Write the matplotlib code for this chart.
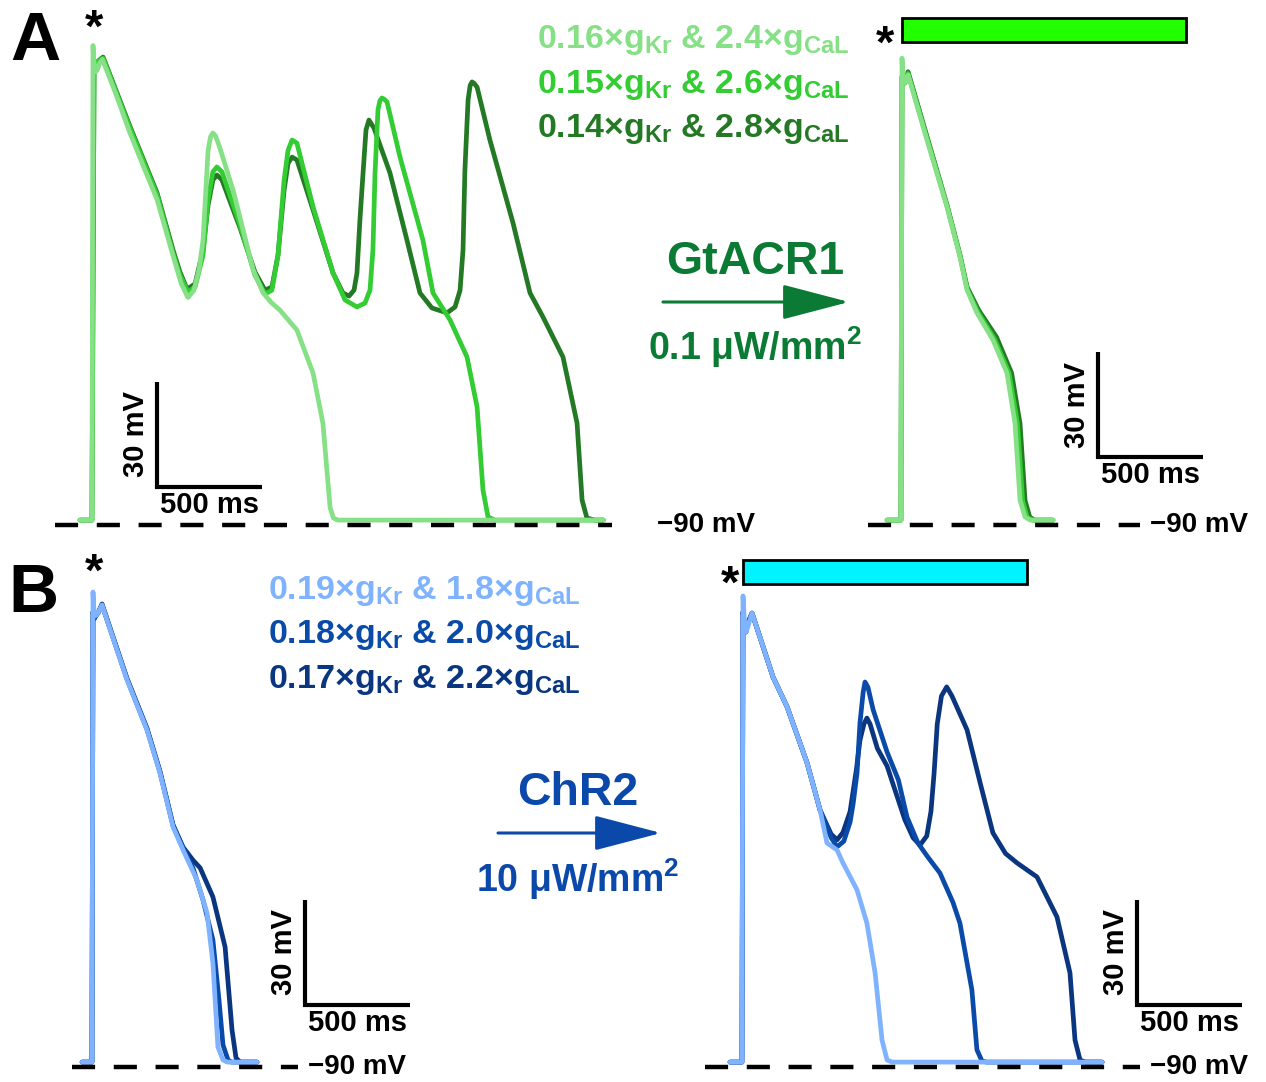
import matplotlib
matplotlib.use("Agg")
import matplotlib.pyplot as plt
from matplotlib.patches import Rectangle, FancyArrowPatch

plt.rcParams['font.family'] = ['Liberation Sans', 'DejaVu Sans']
plt.rcParams['font.weight'] = 'bold'
plt.rcParams['mathtext.fontset'] = 'custom'
plt.rcParams['mathtext.rm'] = 'Liberation Sans:bold'
plt.rcParams['mathtext.bf'] = 'Liberation Sans:bold'
plt.rcParams['mathtext.it'] = 'Liberation Sans:bold'

W, H = 1266, 1082
PX_MS = 0.21    # pixels per ms
PX_MV = 3.5     # pixels per mV

# ---- data: time (ms) and membrane voltage (mV) ----
# A, before light (GtACR1 models)
a_pre_t_16 = [-62, -5, 0, 5, 12, 20, 32, 45, 110, 176, 240, 305, 381, 420, 452, 480, 505, 524, 548, 560, 571,
              583, 600, 667, 762, 810, 850, 890, 971, 1048, 1095, 1129, 1145, 1165, 2430]
a_pre_v_16 = [-88.6, -88.6, 47, 42, 39.5, 40, 42, 43, 33, 22, 12.5, 3, -13, -21, -25, -23, -17, -8.6, 17, 21,
              22, 21.2, 18.5, 5.7, -17, -23.7, -26.5, -28.6, -34.3, -46.6, -61, -85, -88, -88.6, -88.6]
a_pre_t_15 = [-62, -5, 5, 19, 48, 176, 305, 381, 414, 452, 486, 524, 548, 571, 590, 614, 700, 771, 819, 852,
              881, 910, 929, 948, 971, 1048, 1143, 1200, 1257, 1295, 1319, 1333, 1343, 1357, 1366, 1376, 1388,
              1400, 1462, 1571, 1619, 1700, 1781, 1829, 1857, 1881, 1914, 2430]
a_pre_v_15 = [-88.6, -88.6, 40, 42.3, 43.4, 23.4, 4.3, -12.3, -18.6, -23.4, -22, -12.9, 2.9, 10.9, 12.3, 10.9,
              -4.3, -18.6, -24, -22.9, -12.9, 8.6, 17.1, 20, 19.1, 0.9, -18, -25.7, -27.7, -26.6, -22.9, -11.4,
              10.6, 28.6, 31.2, 32, 31.6, 30.9, 15.1, -8.6, -23.7, -31.4, -42, -56.3, -80, -87.7, -88.6, -88.6]
a_pre_t_14 = [-62, -5, 5, 19, 48, 176, 305, 381, 414, 448, 486, 524, 548, 571, 590, 614, 700, 771, 819, 852,
              881, 910, 929, 948, 971, 1048, 1143, 1190, 1219, 1243, 1257, 1271, 1286, 1300, 1314, 1338, 1414,
              1495, 1557, 1614, 1686, 1724, 1748, 1762, 1771, 1786, 1796, 1805, 1815, 1829, 1890, 2000, 2081,
              2143, 2238, 2305, 2329, 2352, 2390, 2430]
a_pre_v_14 = [-88.6, -88.6, 40, 42.3, 43.7, 23.9, 4.9, -11.4, -17.7, -22.6, -21.1, -11.4, 1.4, 8.6, 10, 8.6,
              -5.1, -17.7, -22.9, -22, -12.9, 5.7, 13.4, 15.1, 14.3, 0, -18, -23.7, -24.6, -22.9, -18, -2.9,
              10.6, 22.9, 25.7, 23.4, 10.6, -8.6, -23.7, -28, -29.4, -27.7, -22.9, -11.4, 11.4, 31.4, 35.6,
              36.6, 36.2, 35.1, 20, -3.7, -23.7, -30.6, -42, -60.9, -82.9, -88, -88.6, -88.6]

# A, with GtACR1 light
a_on_t_16 = [-71, -5, 0, 5, 14, 29, 119, 214, 276, 310, 357, 433, 500, 538, 562, 586, 610, 719]
a_on_v_16 = [-88.6, -88.6, 43.4, 38, 36.3, 38.6, 20, 0.9, -13.4, -22.9, -29.4, -37.1, -46.6, -60.9, -82.9,
             -87.7, -88.6, -88.6]
a_on_t_15 = [-71, -5, 0, 5, 14, 29, 119, 214, 276, 310, 360, 440, 510, 550, 574, 596, 620, 719]
a_on_v_15 = [-88.6, -88.6, 38, 37, 36.3, 39, 20.5, 1.2, -13, -22.5, -29, -36.8, -46.6, -61, -83, -87.7,
             -88.6, -88.6]
a_on_t_14 = [-71, -5, 0, 5, 14, 29, 119, 214, 276, 310, 365, 450, 522, 562, 586, 608, 630, 719]
a_on_v_14 = [-88.6, -88.6, 38, 37, 36.3, 39.5, 21, 1.5, -12.8, -22, -28.6, -36.3, -46.6, -61, -83, -87.7,
             -88.6, -88.6]

# B, before light (ChR2 models)
b_pre_t_19 = [-52, -5, 0, 5, 14, 24, 43, 162, 257, 319, 381, 429, 495, 543, 571, 595, 619, 640, 781]
b_pre_v_19 = [-88.6, -88.6, 45.7, 40, 39, 39.7, 42, 20.6, 6.3, -6, -21.4, -28, -36.6, -46, -60.3, -84.3,
              -88, -88.6, -88.6]
b_pre_t_18 = [-52, -5, 0, 5, 14, 24, 43, 162, 257, 319, 381, 429, 476, 524, 571, 600, 619, 643, 660, 781]
b_pre_v_18 = [-88.6, -88.6, 40, 38, 39, 39.7, 42, 20.8, 6.5, -5.8, -21, -27.5, -33.1, -42.3, -53.7, -70.9,
              -83.7, -88, -88.6, -88.6]
b_pre_t_17 = [-52, -5, 0, 5, 14, 24, 43, 162, 257, 319, 381, 429, 476, 510, 571, 629, 662, 681, 700, 781]
b_pre_v_17 = [-88.6, -88.6, 40, 38, 39, 39.7, 42.3, 21, 6.8, -5.5, -20.8, -27.2, -30.9, -33.1, -41.4, -55.7,
              -79.4, -87.4, -88.6, -88.6]

# B, with ChR2 light
b_on_t_19 = [-62, -5, 0, 6, 14, 24, 43, 143, 210, 305, 367, 400, 448, 476, 543, 590, 629, 662, 686, 710, 1710]
b_on_v_19 = [-88.6, -88.6, 44.6, 38, 34.3, 36, 39.7, 21.4, 12.9, -3.1, -16.6, -26, -28, -31.7, -39.4, -48.9,
             -63.1, -82.3, -88, -88.6, -88.6]
b_on_t_18 = [-62, -5, 0, 5, 14, 24, 43, 143, 210, 305, 367, 420, 448, 480, 510, 524, 543, 557, 572, 581, 595,
             620, 686, 740, 781, 833, 880, 938, 1000, 1033, 1090, 1114, 1138, 1160, 1710]
b_on_v_18 = [-88.6, -88.6, 40, 36, 34.3, 37, 39.7, 21.4, 12.9, -3.1, -16.6, -24.5, -27.1, -25.5, -20, -15, -6,
             8.3, 17, 20, 18.5, 12, 0, -8, -18.6, -26, -30, -34.6, -43, -48.9, -68, -85.1, -88.3, -88.6, -88.6]
b_on_t_17 = [-62, -5, 0, 5, 14, 24, 43, 143, 210, 305, 367, 420, 448, 476, 510, 540, 557, 576, 590, 605, 640,
             686, 730, 771, 810, 843, 875, 895, 910, 925, 945, 970, 995, 1067, 1130, 1190, 1250, 1305, 1400,
             1495, 1557, 1581, 1605, 1630, 1710]
b_on_v_17 = [-88.6, -88.6, 40, 36, 34.3, 37, 39.7, 21.4, 12.9, -3.1, -16.6, -23.5, -25.1, -23, -17, -5, 3.4, 8,
             9.7, 8, 1, -4, -12, -19.4, -24.5, -26.6, -24, -17, -6, 8, 16, 18.6, 16, 6.3, -9, -23.1, -29, -31.7,
             -35.7, -47.1, -63.1, -82.3, -88, -88.6, -88.6]

light_on = (0, 1350)       # ms, illumination window
rest_v = -90
scale_ms, scale_mv = 500, 30

green_cols = ['#86e086', '#33cc33', '#247a24']   # 0.16, 0.15, 0.14
blue_cols = ['#80b3ff', '#0a4aa8', '#0a3680']    # 0.19, 0.18, 0.17
green_labels = [r'0.16×g$_{\mathbf{Kr}}$ & 2.4×g$_{\mathbf{CaL}}$',
                r'0.15×g$_{\mathbf{Kr}}$ & 2.6×g$_{\mathbf{CaL}}$',
                r'0.14×g$_{\mathbf{Kr}}$ & 2.8×g$_{\mathbf{CaL}}$']
blue_labels = [r'0.19×g$_{\mathbf{Kr}}$ & 1.8×g$_{\mathbf{CaL}}$',
               r'0.18×g$_{\mathbf{Kr}}$ & 2.0×g$_{\mathbf{CaL}}$',
               r'0.17×g$_{\mathbf{Kr}}$ & 2.2×g$_{\mathbf{CaL}}$']

fig = plt.figure(figsize=(W / 100, H / 100), dpi=100)


def fx(x, y):
    # pixel position in the picture -> figure fraction
    return x / W, 1 - y / H


def panel(x0, y0):
    # an axes over the whole figure whose t=0 / -90 mV point sits at pixel (x0, y0)
    ax = fig.add_axes([0, 0, 1, 1])
    ax.set_xlim(-x0 / PX_MS, (W - x0) / PX_MS)
    ax.set_ylim(rest_v - (H - y0) / PX_MV, rest_v + y0 / PX_MV)
    ax.axis('off')
    ax.patch.set_alpha(0)
    return ax


def traces(ax, ts, vs, cols):
    # darkest first so the lighter trace sits on top
    for t, v, c in reversed(list(zip(ts, vs, cols))):
        ax.plot(t, v, color=c, lw=3.4, solid_joinstyle='round', solid_capstyle='round')


def rest_line(ax, t0, t1, t_lab):
    ax.plot([t0, t1], [rest_v, rest_v], color='black', lw=3.2, ls=(0, (5.2, 4.2)))
    ax.text(t_lab, rest_v, '\u221290 mV', fontsize=20, fontweight='bold', va='center', ha='left')


def scale_bar(ax, t, v):
    ax.plot([t, t, t + scale_ms], [v + scale_mv, v, v], color='black', lw=3, solid_capstyle='butt',
            solid_joinstyle='miter')
    ax.annotate('30 mV', (t, v + scale_mv / 2), xytext=(-15, 0), textcoords='offset points', rotation=90,
                ha='center', va='center', fontsize=21, fontweight='bold')
    ax.annotate('500 ms', (t + scale_ms / 2, v), xytext=(0, -13), textcoords='offset points',
                ha='center', va='center', fontsize=21, fontweight='bold')


def light_bar(ax, col):
    ax.add_patch(Rectangle((light_on[0], 48), light_on[1] - light_on[0], 7, facecolor=col,
                           edgecolor='black', lw=2))


# panel A, before
ax = panel(93, 525)
traces(ax, [a_pre_t_16, a_pre_t_15, a_pre_t_14], [a_pre_v_16, a_pre_v_15, a_pre_v_14], green_cols)
rest_line(ax, -181, 2471, 2686)
scale_bar(ax, 305, -79.1)

# panel A, GtACR1 on
ax = panel(902, 525)
traces(ax, [a_on_t_16, a_on_t_15, a_on_t_14], [a_on_v_16, a_on_v_15, a_on_v_14], green_cols)
rest_line(ax, -162, 1133, 1181)
scale_bar(ax, 933, -70.6)
light_bar(ax, '#22ff00')

# panel B, before
ax = panel(93, 1067)
traces(ax, [b_pre_t_19, b_pre_t_18, b_pre_t_17], [b_pre_v_19, b_pre_v_18, b_pre_v_17], blue_cols)
rest_line(ax, -100, 976, 1024)
scale_bar(ax, 1010, -72.3)

# panel B, ChR2 on
ax = panel(743, 1067)
traces(ax, [b_on_t_19, b_on_t_18, b_on_t_17], [b_on_v_19, b_on_v_18, b_on_v_17], blue_cols)
rest_line(ax, -181, 1890, 1938)
scale_bar(ax, 1876, -72.3)
light_bar(ax, '#00f4ff')

# labels, legends, arrows
fig.text(*fx(10, 60), 'A', fontsize=50, fontweight='bold', va='baseline')
fig.text(*fx(8, 612), 'B', fontsize=50, fontweight='bold', va='baseline')
for x, y in [(94, 30), (885, 46), (94, 574), (730, 586)]:
    fig.text(*fx(x, y), '*', fontsize=34, fontweight='bold', ha='center', va='center')

for i, (lab, c) in enumerate(zip(green_labels, green_cols)):
    fig.text(*fx(537, 48 + 44.5 * i), lab, color=c, fontsize=24.5, fontweight='bold', va='baseline')
for i, (lab, c) in enumerate(zip(blue_labels, blue_cols)):
    fig.text(*fx(268, 599 + 44.5 * i), lab, color=c, fontsize=24.5, fontweight='bold', va='baseline')

gt_col, chr_col = '#0b7a35', '#0a48aa'
fig.text(*fx(755, 274), 'GtACR1', color=gt_col, fontsize=33.5, fontweight='bold', ha='center', va='baseline')
fig.text(*fx(755, 360), r'0.1 μW/mm$^{\mathbf{2}}$', color=gt_col, fontsize=27, fontweight='bold',
         ha='center', va='baseline')
fig.text(*fx(578, 805), 'ChR2', color=chr_col, fontsize=33.5, fontweight='bold', ha='center', va='baseline')
fig.text(*fx(578, 892), r'10 μW/mm$^{\mathbf{2}}$', color=chr_col, fontsize=27, fontweight='bold',
         ha='center', va='baseline')

for (xa, xb, y, c) in [(663, 849, 302, gt_col), (498, 661, 833, chr_col)]:
    fig.add_artist(FancyArrowPatch(fx(xa, y), fx(xb, y), transform=fig.transFigure,
                                   arrowstyle='-|>,head_length=42,head_width=11', mutation_scale=1,
                                   color=c, lw=2.2, shrinkA=0, shrinkB=0))

fig.savefig('out.png', dpi=100)
